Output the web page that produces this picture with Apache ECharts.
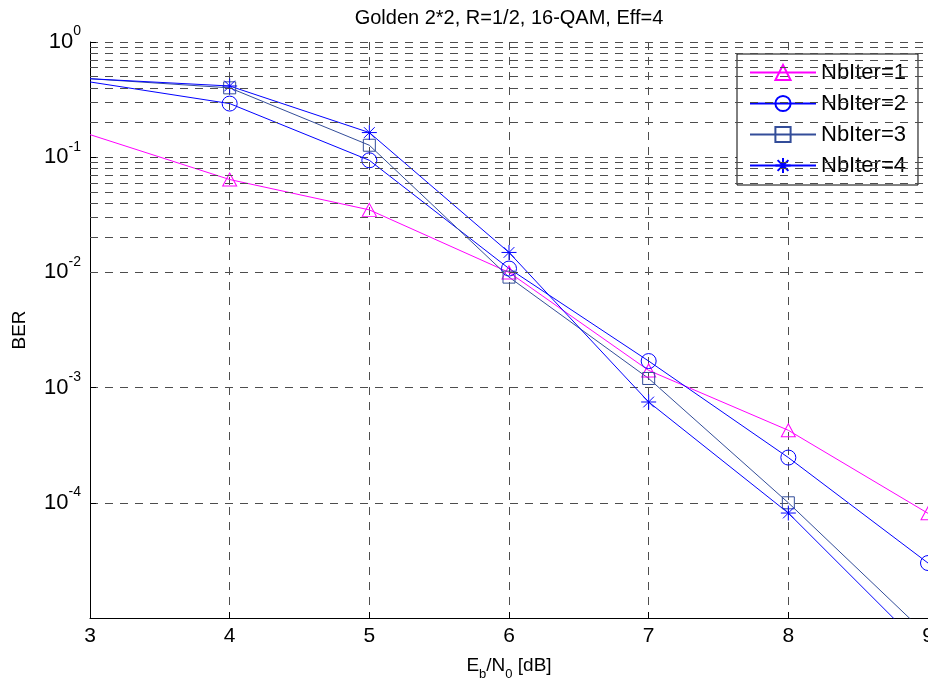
<!DOCTYPE html>
<html>
<head>
<meta charset="utf-8">
<title>Golden 2*2 BER</title>
<script src="https://cdn.jsdelivr.net/npm/echarts@6/dist/echarts.min.js"></script>
<style>
  html, body { margin: 0; padding: 0; background: #fff; }
  #chart { width: 928px; height: 680px; }
</style>
</head>
<body>
<div id="chart"></div>
<script>
// Eb/N0 points (dB)
var ebn0 = [3, 4, 5, 6, 7, 8, 9];

// BER per number of iterations
var berIter1 = [0.157, 0.064, 0.0349, 0.0100, 0.00141, 0.000426, 0.000081];
var berIter2 = [0.45, 0.292, 0.094, 0.0108, 0.0017, 0.000247, 0.000030];
var berIter3 = [0.48, 0.40, 0.127, 0.0091, 0.0012, 0.000100, 0.000007];
var berIter4 = [0.48, 0.415, 0.1636, 0.0149, 0.00075, 0.0000815, 0.000005];

var seriesNames = ["NbIter=1", "NbIter=2", "NbIter=3", "NbIter=4"];

// minor grid of the log axis: 2..9 in every decade
var decades = [1e-5, 1e-4, 1e-3, 1e-2, 1e-1];
var minorSteps = [2, 3, 4, 5, 6, 7, 8, 9];

var FONT = "'Liberation Sans', Arial, sans-serif";
var GRID_COLOR = "#4d4d4d";
var DASH = [8, 7];

var minorLines = [];
decades.forEach(function (d) {
  minorSteps.forEach(function (m) {
    minorLines.push({ yAxis: d * m });
  });
});

// first point sits on the left edge: no marker there (curve comes from outside)
function toData(values) {
  return ebn0.map(function (x, i) {
    if (i === 0) {
      return { value: [x, values[i]], symbol: "none" };
    }
    return [x, values[i]];
  });
}

function makeSeries(name, values, color, symbol, size) {
  return {
    name: name,
    type: "line",
    data: toData(values),
    symbol: symbol,
    symbolSize: size,
    showSymbol: true,
    clip: true,
    z: 3,
    lineStyle: { color: color, width: 1 },
    itemStyle: { color: "rgba(0,0,0,0)", borderColor: color, borderWidth: 1 },
    emphasis: { disabled: true },
  };
}

var STAR = "path://M0,-8L0,8M-8,0L8,0M-5.7,-5.7L5.7,5.7M-5.7,5.7L5.7,-5.7";

var chart = echarts.init(document.getElementById("chart"), null, { renderer: "canvas" });

var option = {
  animation: false,
  backgroundColor: "#fff",
  textStyle: { fontFamily: FONT },
  graphic: [
    {
      type: "text",
      x: 509,
      y: 18,
      style: {
        text: "Golden 2*2, R=1/2, 16-QAM, Eff=4",
        font: "20px " + FONT,
        fill: "#000",
        textAlign: "center",
        textVerticalAlign: "middle",
      },
    },
  ],
  grid: { left: 90, right: 0, top: 42, bottom: 62, containLabel: false, outerBoundsMode: "none" },
  legend: {
    data: seriesNames,
    orient: "vertical",
    left: 737,
    top: 54,
    padding: [7.5, 12, 8.5, 12],
    itemGap: 9,
    itemWidth: 66,
    itemHeight: 19,
    borderColor: "#000",
    borderWidth: 1,
    backgroundColor: "#fff",
    textStyle: { fontSize: 22, color: "#000", fontFamily: FONT },
  },
  xAxis: {
    type: "value",
    min: 3,
    max: 9,
    interval: 1,
    name: "{n|E}{s|b}{n|/N}{s|0}{n| [dB]}",
    nameLocation: "middle",
    nameGap: 32,
    nameTextStyle: {
      color: "#000",
      rich: {
        n: { fontSize: 19, fontFamily: FONT, color: "#000" },
        s: { fontSize: 13, fontFamily: FONT, color: "#000", padding: [18, 0, 0, 0] },
      },
    },
    axisLine: { show: true, lineStyle: { color: "#000", width: 1 } },
    axisTick: { show: true, inside: true, length: 6, lineStyle: { color: "#000" } },
    axisLabel: { fontSize: 21, color: "#000", margin: 8, fontFamily: FONT },
    splitLine: { show: true, lineStyle: { color: GRID_COLOR, type: DASH, width: 1 } },
  },
  yAxis: {
    type: "log",
    logBase: 10,
    min: 1e-5,
    max: 1,
    name: "BER",
    nameLocation: "middle",
    nameRotate: 90,
    nameGap: 61,
    nameTextStyle: { fontSize: 19, color: "#000", fontFamily: FONT },
    axisLine: { show: true, lineStyle: { color: "#000", width: 1 } },
    axisTick: { show: true, inside: true, length: 6, lineStyle: { color: "#000" } },
    axisLabel: {
      margin: 9,
      color: "#000",
      formatter: function (value) {
        var e = Math.round(Math.log10(value));
        if (e === -5) return "";
        return "{b|10}{s|" + e + "}";
      },
      rich: {
        b: { fontSize: 22, fontFamily: FONT, color: "#000" },
        s: { fontSize: 14, fontFamily: FONT, color: "#000", padding: [0, 0, 21, 0] },
      },
    },
    splitLine: { show: true, lineStyle: { color: GRID_COLOR, type: DASH, width: 1 } },
  },
  series: [
    // minor grid lines only
    {
      name: "grid",
      type: "line",
      data: [],
      z: 1,
      markLine: {
        silent: true,
        symbol: ["none", "none"],
        label: { show: false },
        animation: false,
        lineStyle: { color: GRID_COLOR, type: DASH, width: 1 },
        emphasis: { disabled: true },
        data: minorLines,
      },
    },
    makeSeries(seriesNames[0], berIter1, "#ff00ff", "triangle", [14, 13]),
    makeSeries(seriesNames[1], berIter2, "#0000ff", "circle", 15),
    makeSeries(seriesNames[2], berIter3, "#334d99", "rect", 12),
    makeSeries(seriesNames[3], berIter4, "#0000ff", STAR, 15),
  ],
};

chart.setOption(option);
</script>
</body>
</html>
